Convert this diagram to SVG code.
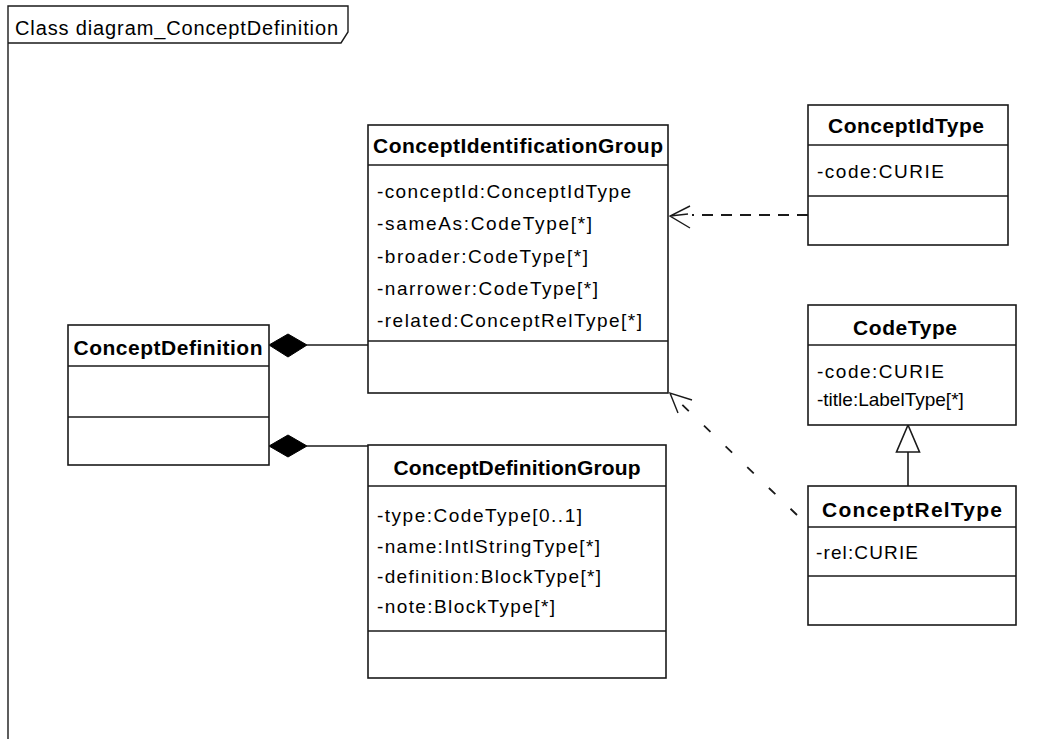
<svg xmlns="http://www.w3.org/2000/svg" width="1058" height="739" viewBox="0 0 1058 739">
  <style>
    .box { fill: #ffffff; stroke: #1a1a1a; stroke-width: 1.6; }
    .div { stroke: #1a1a1a; stroke-width: 1.6; fill: none; }
    .title { font-family: "Liberation Sans", Arial, sans-serif; font-weight: bold; font-size: 21px; fill: #000; text-anchor: middle; }
    .attr { font-family: "Liberation Sans", Arial, sans-serif; font-size: 19px; fill: #000; }
    .frame { fill: none; stroke: #1a1a1a; stroke-width: 1.4; }
    .frametext { font-family: "Liberation Sans", Arial, sans-serif; font-size: 20px; fill: #000; }
    .link { stroke: #1a1a1a; stroke-width: 1.6; fill: none; }
    .dash { stroke: #1a1a1a; stroke-width: 1.8; fill: none; }
    .head { stroke: #1a1a1a; stroke-width: 1.4; fill: none; }
    .diamond { fill: #000; stroke: #000; stroke-width: 1; }
    .tri { fill: #ffffff; stroke: #1a1a1a; stroke-width: 1.6; }
  </style>

  <rect width="1058" height="739" fill="#ffffff"/>

  <!-- diagram frame with name tab -->
  <g id="frame">
    <path class="frame" d="M8 739 L8 6 L348 6 L348 32 L341 43 L8 43"/>
    <text class="frametext" x="15" y="35" textLength="323" lengthAdjust="spacing">Class diagram_ConceptDefinition</text>
  </g>

  <!-- connectors -->
  <g id="connectors">
    <!-- composition: ConceptDefinition -> ConceptIdentificationGroup -->
    <line class="link" x1="307" y1="345" x2="368" y2="345"/>
    <polygon class="diamond" points="269,345 288,334 307,345 288,357"/>
    <!-- composition: ConceptDefinition -> ConceptDefinitionGroup -->
    <line class="link" x1="307" y1="446" x2="368" y2="446"/>
    <polygon class="diamond" points="269,446 288,435 307,446 288,457"/>

    <!-- dependency: ConceptIdentificationGroup -> ConceptIdType -->
    <line class="dash" x1="808" y1="215" x2="692" y2="215" stroke-dasharray="11 8"/>
    <path class="head" d="M690 206 L670 216 L690 228 M670 216 L688 214"/>

    <!-- dependency: ConceptIdentificationGroup -> ConceptRelType -->
    <path class="dash" d="M797 515 L670 393" stroke-dasharray="9 21"/>
    <path class="head" d="M692 400 L670 393 L678 413"/>
    <path class="head" d="M814 531 L817 535"/>

    <!-- generalization: ConceptRelType -> CodeType -->
    <line class="link" x1="908" y1="452" x2="908" y2="486"/>
    <polygon class="tri" points="908,425 896.5,452 919.5,452"/>
  </g>

  <g id="ConceptDefinition">
    <rect class="box" x="68" y="325" width="201" height="140"/>
    <line class="div" x1="68" y1="366" x2="269" y2="366"/>
    <line class="div" x1="68" y1="417" x2="269" y2="417"/>
    <text class="title" x="168" y="355" textLength="189" lengthAdjust="spacing">ConceptDefinition</text>
  </g>

  <g id="ConceptIdentificationGroup">
    <rect class="box" x="368" y="125" width="300" height="268"/>
    <line class="div" x1="368" y1="165" x2="668" y2="165"/>
    <line class="div" x1="368" y1="341" x2="668" y2="341"/>
    <text class="title" x="518" y="153" textLength="290" lengthAdjust="spacing">ConceptIdentificationGroup</text>
    <text class="attr" x="377" y="198" textLength="254" lengthAdjust="spacing">-conceptId:ConceptIdType</text>
    <text class="attr" x="377" y="230" textLength="215" lengthAdjust="spacing">-sameAs:CodeType[*]</text>
    <text class="attr" x="377" y="263" textLength="211" lengthAdjust="spacing">-broader:CodeType[*]</text>
    <text class="attr" x="377" y="295" textLength="221" lengthAdjust="spacing">-narrower:CodeType[*]</text>
    <text class="attr" x="377" y="327" textLength="265" lengthAdjust="spacing">-related:ConceptRelType[*]</text>
  </g>

  <g id="ConceptDefinitionGroup">
    <rect class="box" x="368" y="445" width="298" height="233"/>
    <line class="div" x1="368" y1="486" x2="666" y2="486"/>
    <line class="div" x1="368" y1="631" x2="666" y2="631"/>
    <text class="title" x="517" y="475" textLength="247" lengthAdjust="spacing">ConceptDefinitionGroup</text>
    <text class="attr" x="377" y="522" textLength="205" lengthAdjust="spacing">-type:CodeType[0..1]</text>
    <text class="attr" x="377" y="553" textLength="223" lengthAdjust="spacing">-name:IntlStringType[*]</text>
    <text class="attr" x="377" y="583" textLength="224" lengthAdjust="spacing">-definition:BlockType[*]</text>
    <text class="attr" x="377" y="613" textLength="178" lengthAdjust="spacing">-note:BlockType[*]</text>
  </g>

  <g id="ConceptIdType">
    <rect class="box" x="808" y="105" width="200" height="140"/>
    <line class="div" x1="808" y1="145" x2="1008" y2="145"/>
    <line class="div" x1="808" y1="196" x2="1008" y2="196"/>
    <text class="title" x="906" y="133" textLength="156" lengthAdjust="spacing">ConceptIdType</text>
    <text class="attr" x="817" y="178" textLength="127" lengthAdjust="spacing">-code:CURIE</text>
  </g>

  <g id="CodeType">
    <rect class="box" x="808" y="305" width="208" height="120"/>
    <line class="div" x1="808" y1="345" x2="1016" y2="345"/>
    <text class="title" x="905" y="335" textLength="104" lengthAdjust="spacing">CodeType</text>
    <text class="attr" x="817" y="378" textLength="127" lengthAdjust="spacing">-code:CURIE</text>
    <text class="attr" x="817" y="406">-title:LabelType[*]</text>
  </g>

  <g id="ConceptRelType">
    <rect class="box" x="808" y="486" width="208" height="139"/>
    <line class="div" x1="808" y1="527" x2="1016" y2="527"/>
    <line class="div" x1="808" y1="576" x2="1016" y2="576"/>
    <text class="title" x="912" y="517" textLength="180" lengthAdjust="spacing">ConceptRelType</text>
    <text class="attr" x="816" y="559" textLength="102" lengthAdjust="spacing">-rel:CURIE</text>
  </g>
</svg>
